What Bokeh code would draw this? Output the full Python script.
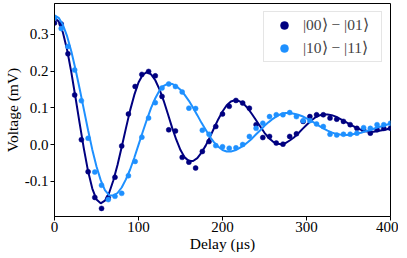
from bokeh.plotting import figure
from bokeh.models import Legend, LegendItem, FixedTicker, PrintfTickFormatter, Range1d
from bokeh.embed import file_html
from bokeh.resources import INLINE

# ---- data (delay in microseconds, voltage in mV) ----
delay = list(range(0, 408, 8))
v_00_01 = [0.331, 0.328, 0.247, 0.135, 0.013, -0.074, -0.144, -0.174, -0.145, -0.089,
           -0.004, 0.083, 0.158, 0.191, 0.199, 0.187, 0.131, 0.040, 0.037, -0.035,
           -0.048, -0.064, -0.019, 0.008, 0.049, 0.083, 0.104, 0.120, 0.113, 0.099,
           0.054, 0.019, 0.022, 0.004, 0.001, 0.022, 0.029, 0.063, 0.076, 0.081,
           0.081, 0.072, 0.069, 0.063, 0.054, 0.044, 0.040, 0.031, 0.040, 0.044,
           0.044]
v_10_11 = [0.345, 0.316, 0.267, 0.203, 0.119, 0.017, -0.075, -0.111, -0.150, -0.141,
           -0.133, -0.085, -0.046, 0.020, 0.072, 0.114, 0.154, 0.165, 0.158, 0.143,
           0.099, 0.098, 0.039, 0.028, -0.003, -0.006, -0.010, -0.009, 0.000, 0.022,
           0.044, 0.058, 0.076, 0.081, 0.081, 0.087, 0.076, 0.065, 0.065, 0.056,
           0.049, 0.028, 0.026, 0.028, 0.028, 0.031, 0.046, 0.044, 0.054, 0.054,
           0.058]

# fitted curves, every 5 us
fit_delay = list(range(0, 405, 5))
fit_00_01 = [0.345, 0.335, 0.305, 0.258, 0.197, 0.128, 0.057, -0.012, -0.073, -0.120,
             -0.150, -0.160, -0.153, -0.132, -0.098, -0.056, -0.007, 0.044, 0.093, 0.135,
             0.169, 0.190, 0.197, 0.191, 0.175, 0.150, 0.119, 0.083, 0.046, 0.013,
             -0.015, -0.035, -0.045, -0.045, -0.037, -0.022, -0.003, 0.020, 0.045, 0.069,
             0.090, 0.107, 0.117, 0.121, 0.118, 0.111, 0.099, 0.083, 0.066, 0.049,
             0.032, 0.018, 0.008, 0.002, 0.001, 0.004, 0.011, 0.019, 0.030, 0.042,
             0.053, 0.064, 0.073, 0.079, 0.082, 0.082, 0.080, 0.076, 0.070, 0.064,
             0.057, 0.051, 0.045, 0.040, 0.036, 0.035, 0.035, 0.037, 0.039, 0.041,
             0.045]
fit_10_11 = [0.352, 0.345, 0.326, 0.295, 0.254, 0.205, 0.151, 0.095, 0.039, -0.014,
             -0.060, -0.097, -0.124, -0.138, -0.139, -0.132, -0.117, -0.095, -0.068, -0.036,
             -0.001, 0.034, 0.068, 0.100, 0.126, 0.147, 0.160, 0.166, 0.165, 0.159,
             0.149, 0.135, 0.119, 0.100, 0.080, 0.059, 0.040, 0.021, 0.006, -0.006,
             -0.015, -0.019, -0.019, -0.016, -0.010, -0.003, 0.006, 0.016, 0.028, 0.039,
             0.051, 0.061, 0.070, 0.078, 0.083, 0.086, 0.086, 0.084, 0.081, 0.077,
             0.071, 0.065, 0.058, 0.051, 0.044, 0.038, 0.033, 0.029, 0.027, 0.026,
             0.026, 0.028, 0.030, 0.032, 0.036, 0.039, 0.043, 0.047, 0.050, 0.054,
             0.056]

labels = ["|00\u27e9 \u2212 |01\u27e9", "|10\u27e9 \u2212 |11\u27e9"]
x_ticks = [0, 100, 200, 300, 400]
y_ticks = [-0.1, 0.0, 0.1, 0.2, 0.3]

DARK = "#000080"
LIGHT = "#1e90ff"
FONT = "Liberation Serif"
FS_TICK = "15px"
FS_LABEL = "15.5px"

p = figure(frame_width=336, frame_height=213, output_backend="svg", toolbar_location=None,
           x_range=Range1d(0, 400), y_range=Range1d(-0.196, 0.384),
           min_border_left=47, min_border_right=8, min_border_top=3, min_border_bottom=30)
p.xgrid.visible = False
p.ygrid.visible = False
p.outline_line_color = "black"
p.outline_line_width = 1
p.background_fill_color = "white"

p.line(fit_delay, fit_00_01, line_color=DARK, line_width=2)
r1 = p.scatter(delay, v_00_01, size=5, fill_color=DARK, line_color=DARK, line_width=0.5)
p.line(fit_delay, fit_10_11, line_color=LIGHT, line_width=2)
r2 = p.scatter(delay, v_10_11, size=5, fill_color=LIGHT, line_color=LIGHT, line_width=0.5)

p.xaxis.ticker = FixedTicker(ticks=x_ticks, minor_ticks=[])
p.yaxis.ticker = FixedTicker(ticks=y_ticks, minor_ticks=[])
p.yaxis.formatter = PrintfTickFormatter(format="%.1f")
p.xaxis.axis_label = "Delay (\u03bcs)"
p.yaxis.axis_label = "Voltage (mV)"
for ax in (p.xaxis, p.yaxis):
    ax.major_label_text_font = FONT
    ax.major_label_text_font_size = FS_TICK
    ax.major_label_text_color = "black"
    ax.axis_label_text_font = FONT
    ax.axis_label_text_font_size = FS_LABEL
    ax.axis_label_text_font_style = "normal"
    ax.axis_label_text_color = "black"
    ax.axis_line_color = "black"
    ax.major_tick_line_color = "black"
    ax.major_tick_out = 4
    ax.major_tick_in = 0
    ax.minor_tick_out = 0
    ax.minor_tick_in = 0
    ax.major_label_standoff = 2
    ax.axis_label_standoff = 1
p.xaxis.major_label_standoff = 1
p.xaxis.axis_label_standoff = 0

legend = Legend(items=[LegendItem(label=labels[0], renderers=[r1]),
                       LegendItem(label=labels[1], renderers=[r2])],
                location="top_right")
legend.label_text_font = FONT
legend.label_text_font_size = FS_LABEL
legend.padding = 3
legend.margin = 8
legend.spacing = 3
legend.glyph_width = 34
legend.glyph_height = 20
legend.label_height = 20
legend.label_width = 75
legend.label_standoff = 2
legend.border_line_color = "#cccccc"
legend.background_fill_alpha = 0.85
p.add_layout(legend)

open("out.html", "w").write(file_html(p, INLINE))
